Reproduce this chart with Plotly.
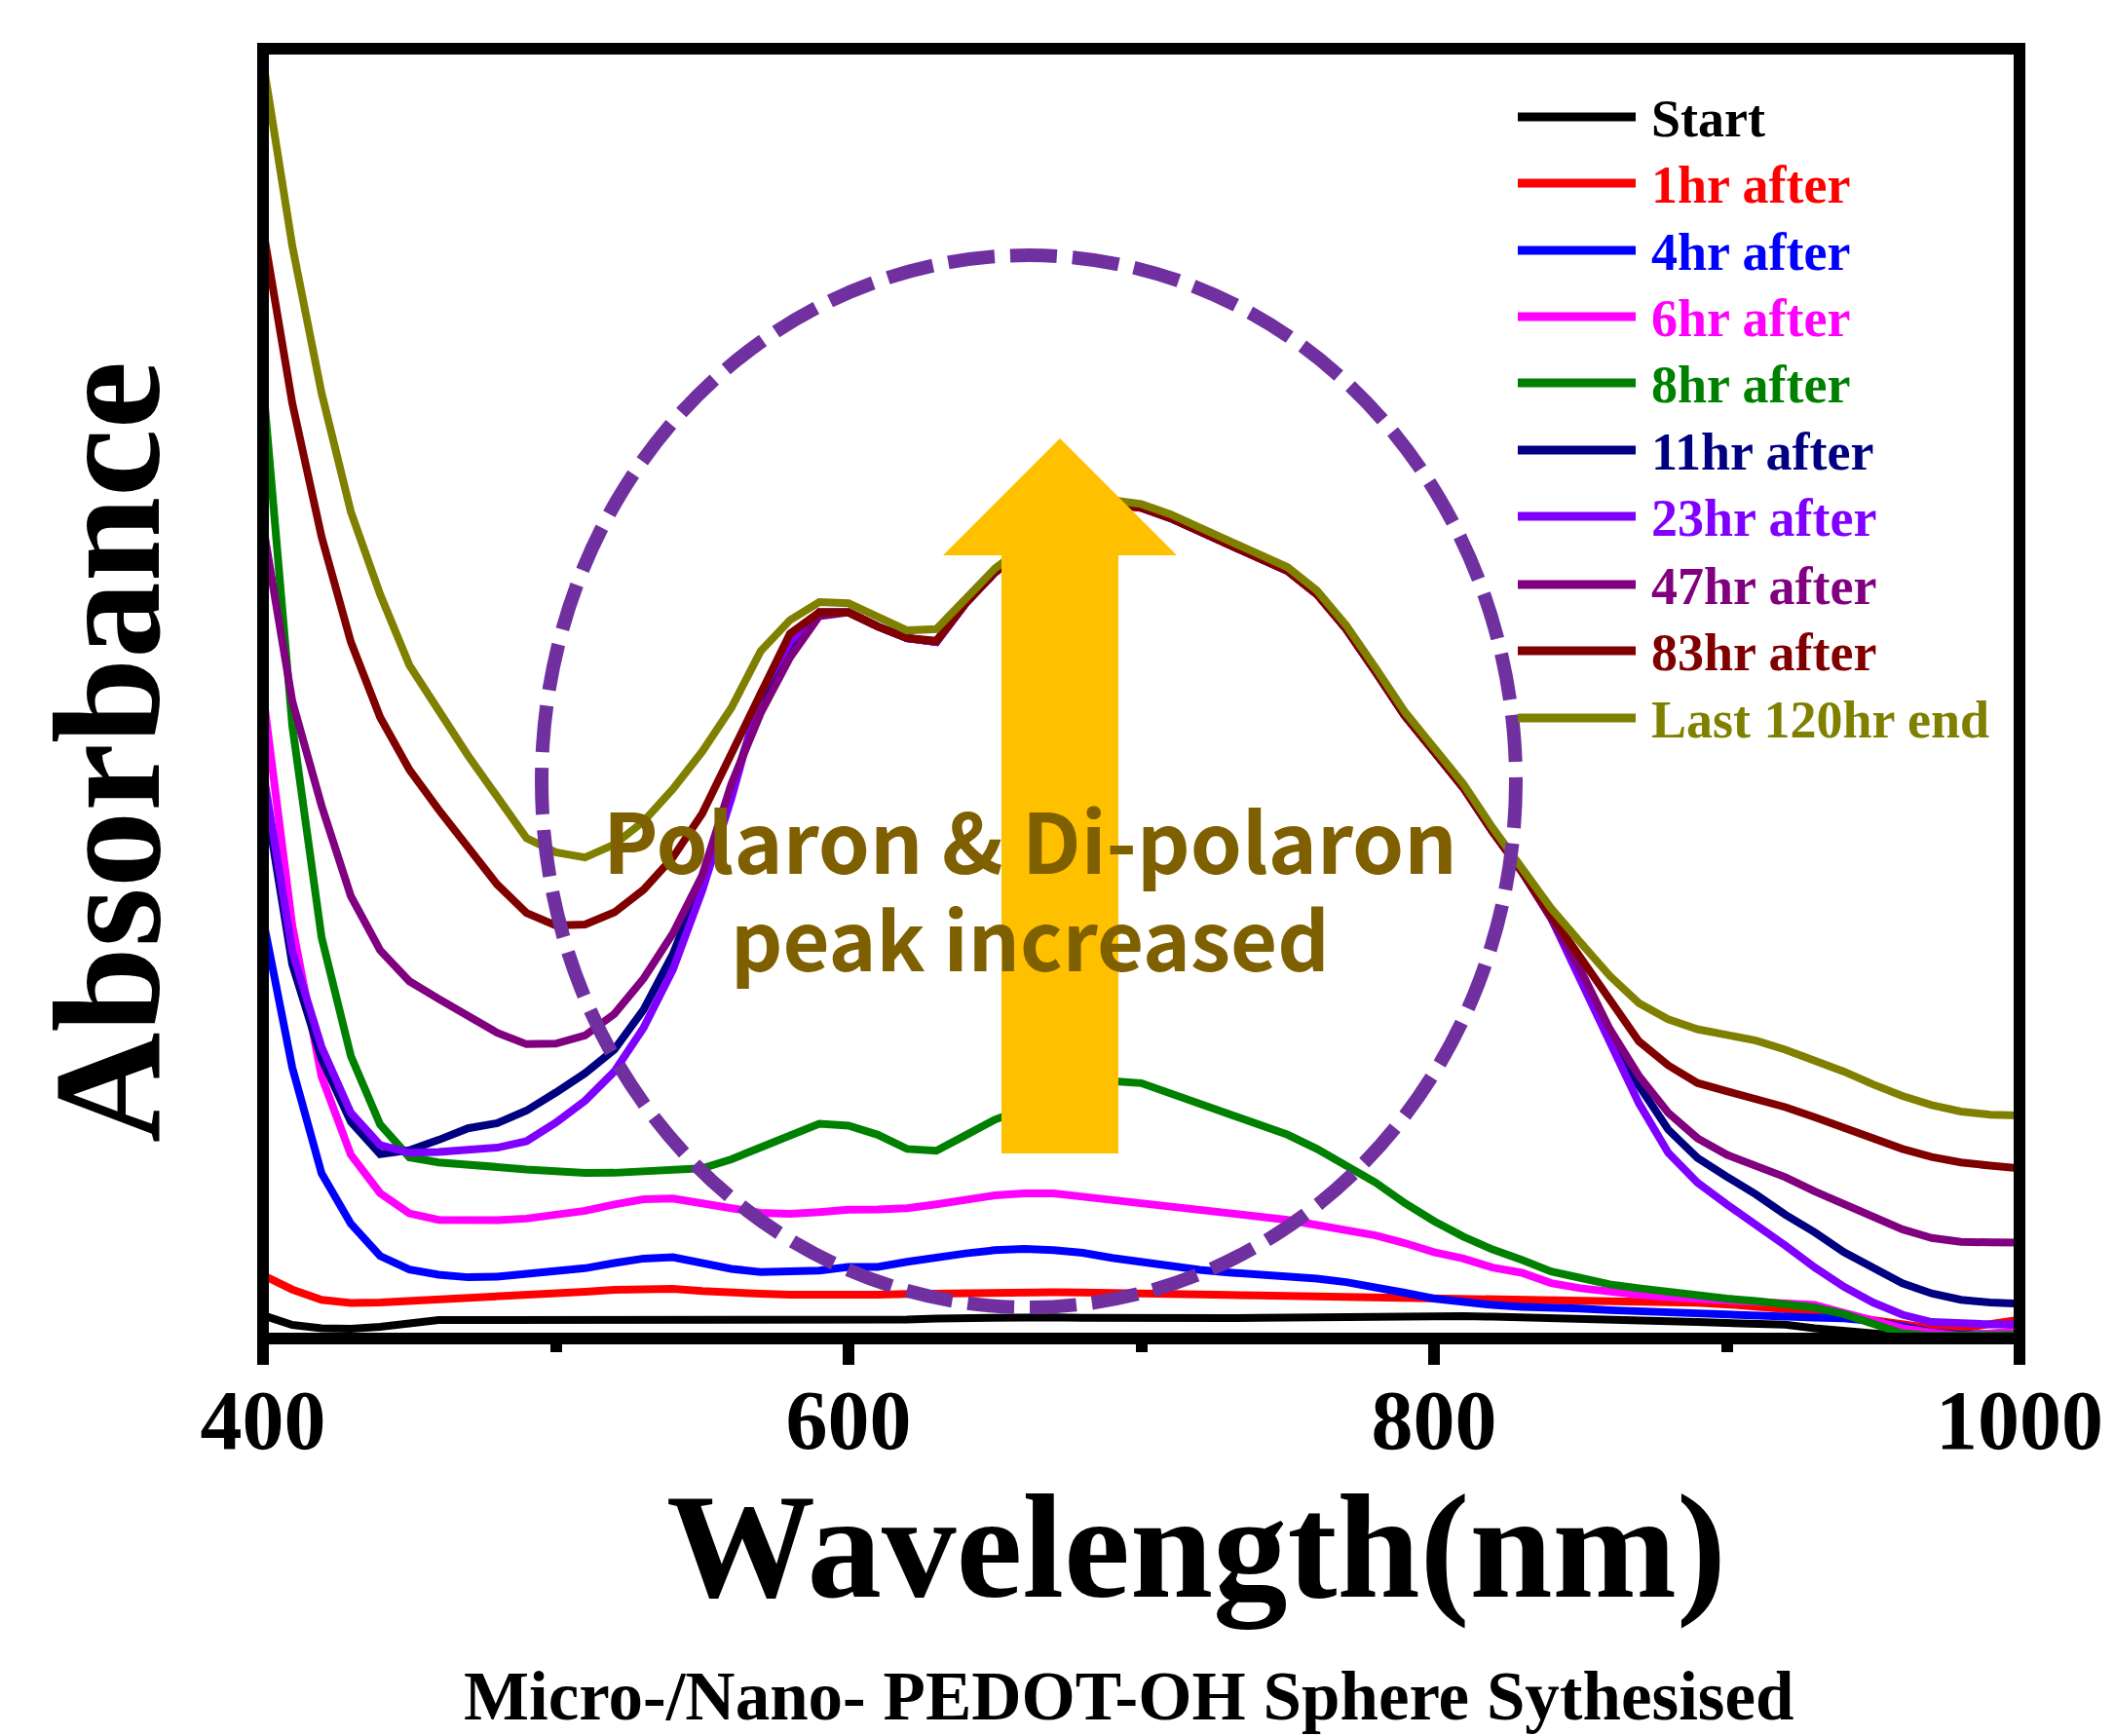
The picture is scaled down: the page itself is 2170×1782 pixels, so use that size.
import plotly.graph_objects as go

# ---------------- data ----------------
wavelength = [400, 410, 420, 430, 440, 450, 460, 470, 480, 490,
              500, 510, 520, 530, 540, 550, 560, 570, 580, 590,
              600, 610, 620, 630, 640, 650, 660, 670, 680, 690,
              700, 710, 720, 730, 740, 750, 760, 770, 780, 790,
              800, 810, 820, 830, 840, 850, 860, 870, 880, 890,
              900, 910, 920, 930, 940, 950, 960, 970, 980, 990, 1000]

series_names = ["Start", "1hr after", "4hr after", "6hr after", "8hr after",
                "11hr after", "23hr after", "47hr after", "83hr after", "Last 120hr end"]
series_colors = ["#000000", "#FF0000", "#0000FF", "#FF00FF", "#008000",
                 "#000080", "#8000FF", "#800080", "#800000", "#808000"]

start = [0.018, 0.0105, 0.008, 0.0075, 0.009, 0.012, 0.0143, 0.0143, 0.0143, 0.0143,
         0.0145, 0.0147, 0.0148, 0.0149, 0.0147, 0.0143, 0.014, 0.0138, 0.0137, 0.0136,
         0.0137, 0.0142, 0.0148, 0.0155, 0.016, 0.0165, 0.0168, 0.0165, 0.016, 0.0157,
         0.0156, 0.0157, 0.0158, 0.0159, 0.016, 0.0162, 0.017, 0.0176, 0.018, 0.018,
         0.0177, 0.0173, 0.0169, 0.0165, 0.016, 0.0153, 0.0146, 0.014, 0.0135, 0.0128,
         0.012, 0.0113, 0.0107, 0.008, 0.0055, 0.003, 0.002, 0.001, 0.001, 0.001, 0.001]

hr1 = [0.049, 0.038, 0.030, 0.0275, 0.028, 0.029, 0.0303, 0.0315, 0.0325, 0.0337,
       0.035, 0.0362, 0.0378, 0.0386, 0.0385, 0.0368, 0.0352, 0.0347, 0.034, 0.0337,
       0.0335, 0.034, 0.0345, 0.035, 0.0355, 0.036, 0.036, 0.0358, 0.0356, 0.0355,
       0.0353, 0.0348, 0.0343, 0.0338, 0.0334, 0.033, 0.0325, 0.032, 0.0316, 0.0312,
       0.0307, 0.0303, 0.030, 0.0295, 0.0295, 0.0295, 0.0295, 0.0293, 0.029, 0.0278,
       0.0265, 0.025, 0.0235, 0.021, 0.0175, 0.0145, 0.011, 0.008, 0.008, 0.011, 0.0145]

hr4 = [0.325, 0.21, 0.128, 0.089, 0.064, 0.0535, 0.0495, 0.0475, 0.048, 0.0498,
       0.0515, 0.0545, 0.0585, 0.062, 0.063, 0.0585, 0.054, 0.0516, 0.0514, 0.0527,
       0.0555, 0.0555, 0.0595, 0.0635, 0.066, 0.0685, 0.0695, 0.0685, 0.0665, 0.0625,
       0.059, 0.0553, 0.0532, 0.0512, 0.050, 0.049, 0.0465, 0.0437, 0.040, 0.0355,
       0.031, 0.028, 0.026, 0.0245, 0.0242, 0.0232, 0.022, 0.021, 0.0204, 0.0194,
       0.0185, 0.0175, 0.017, 0.0163, 0.0157, 0.0135, 0.0095, 0.005, 0.003, 0.0035, 0.0045]

hr6 = [0.50, 0.32, 0.203, 0.1425, 0.1127, 0.097, 0.092, 0.0918, 0.0918, 0.093,
       0.0955, 0.099, 0.104, 0.108, 0.1085, 0.1055, 0.101, 0.0975, 0.0966, 0.098,
       0.0998, 0.100, 0.101, 0.104, 0.108, 0.111, 0.1125, 0.1125, 0.110, 0.1075,
       0.104, 0.101, 0.099, 0.096, 0.094, 0.092, 0.088, 0.084, 0.080, 0.074,
       0.067, 0.062, 0.055, 0.051, 0.043, 0.039, 0.036, 0.034, 0.032, 0.031,
       0.030, 0.0295, 0.0285, 0.026, 0.020, 0.014, 0.008, 0.0045, 0.002, 0.004, 0.006]

hr8 = [0.74, 0.475, 0.311, 0.219, 0.166, 0.1405, 0.1365, 0.1355, 0.133, 0.131,
       0.129, 0.1284, 0.1285, 0.1295, 0.130, 0.132, 0.139, 0.148, 0.157, 0.1665,
       0.165, 0.158, 0.147, 0.1456, 0.1576, 0.1697, 0.178, 0.185, 0.1925, 0.1996,
       0.198, 0.190, 0.1826, 0.174, 0.165, 0.158, 0.147, 0.134, 0.121, 0.105,
       0.091, 0.079, 0.069, 0.061, 0.052, 0.047, 0.042, 0.039, 0.036, 0.033,
       0.031, 0.029, 0.027, 0.024, 0.019, 0.012, 0.004, 0.002, 0.002, 0.002, 0.003]

hr11 = [0.43, 0.29, 0.217, 0.168, 0.143, 0.146, 0.154, 0.163, 0.167, 0.1767,
        0.1907, 0.2057, 0.224, 0.255, 0.298, 0.355, 0.425, 0.495, 0.538, 0.563,
        0.563, 0.552, 0.543, 0.540, 0.570, 0.594, 0.611, 0.625, 0.639, 0.647,
        0.644, 0.636, 0.626, 0.616, 0.606, 0.595, 0.577, 0.550, 0.517, 0.483,
        0.455, 0.427, 0.393, 0.362, 0.326, 0.282, 0.237, 0.196, 0.162, 0.140,
        0.1255, 0.1117, 0.096, 0.0824, 0.067, 0.0549, 0.0428, 0.035, 0.030, 0.028, 0.027]

hr23 = [0.44, 0.30, 0.226, 0.175, 0.150, 0.144, 0.1447, 0.1467, 0.148, 0.153,
        0.1674, 0.1844, 0.207, 0.241, 0.286, 0.347, 0.419, 0.50, 0.54, 0.563,
        0.563, 0.552, 0.543, 0.540, 0.570, 0.594, 0.611, 0.625, 0.639, 0.647,
        0.644, 0.636, 0.626, 0.616, 0.606, 0.595, 0.577, 0.550, 0.517, 0.483,
        0.455, 0.427, 0.393, 0.362, 0.326, 0.277, 0.228, 0.1823, 0.144, 0.1208,
        0.104, 0.0888, 0.0721, 0.0552, 0.0402, 0.0279, 0.0185, 0.0128, 0.0115, 0.011, 0.011]

hr47 = [0.63, 0.494, 0.413, 0.343, 0.301, 0.277, 0.2633, 0.251, 0.237, 0.2282,
        0.2286, 0.235, 0.2516, 0.2791, 0.314, 0.359, 0.43, 0.485, 0.528, 0.560,
        0.563, 0.552, 0.543, 0.540, 0.570, 0.594, 0.611, 0.625, 0.639, 0.647,
        0.644, 0.636, 0.626, 0.616, 0.606, 0.595, 0.577, 0.550, 0.517, 0.483,
        0.455, 0.427, 0.393, 0.362, 0.326, 0.286, 0.240, 0.2036, 0.175, 0.1553,
        0.1425, 0.1341, 0.1251, 0.1142, 0.1043, 0.0942, 0.0847, 0.078, 0.075, 0.0745, 0.0744]

hr83 = [0.86, 0.725, 0.6215, 0.540, 0.4817, 0.441, 0.410, 0.3815, 0.352, 0.330,
        0.3203, 0.321, 0.3304, 0.348, 0.373, 0.407, 0.4536, 0.499, 0.5465, 0.563,
        0.563, 0.552, 0.543, 0.541, 0.570, 0.594, 0.611, 0.625, 0.639, 0.647,
        0.644, 0.636, 0.626, 0.616, 0.606, 0.595, 0.577, 0.550, 0.517, 0.483,
        0.455, 0.427, 0.393, 0.362, 0.328, 0.2953, 0.2608, 0.2304, 0.2118, 0.1981,
        0.1917, 0.1861, 0.1794, 0.1717, 0.1634, 0.155, 0.147, 0.1408, 0.1365, 0.134, 0.132]

hr120 = [0.99, 0.847, 0.733, 0.641, 0.577, 0.522, 0.487, 0.452, 0.420, 0.388,
         0.377, 0.373, 0.383, 0.401, 0.426, 0.455, 0.489, 0.533, 0.557, 0.571,
         0.570, 0.559, 0.549, 0.550, 0.573, 0.597, 0.614, 0.628, 0.642, 0.650,
         0.647, 0.639, 0.629, 0.619, 0.609, 0.598, 0.580, 0.553, 0.520, 0.486,
         0.458, 0.430, 0.396, 0.3644, 0.3335, 0.3071, 0.2813, 0.260, 0.2475, 0.2398,
         0.235, 0.231, 0.224, 0.216, 0.207, 0.197, 0.188, 0.181, 0.176, 0.1735, 0.173]

series_values = [start, hr1, hr4, hr6, hr8, hr11, hr23, hr47, hr83, hr120]

x_ticks = [400, 600, 800, 1000]
x_minor_ticks = [500, 700, 900]

annotation_line1 = "Polaron & Di-polaron"
annotation_line2 = "peak increased"
x_title = "Wavelength(nm)"
y_title = "Absorbance"
caption = "Micro-/Nano- PEDOT-OH Sphere Sythesised"

# ---------------- layout geometry (page pixels) ----------------
BODY = 8                      # default page margin before the plot div
W, H = 2170, 1782
PL, PR, PT, PB = 270, 2073, 50, 1374   # plot area edges in page pixels


def px(x):
    return (x - PL) / (PR - PL)


def py(y):
    return (PB - y) / (PB - PT)


SERIF = "Liberation Serif"

fig = go.Figure()
for name, color, vals in zip(series_names, series_colors, series_values):
    fig.add_trace(go.Scatter(x=wavelength, y=vals, mode="lines", name=name,
                             line=dict(color=color, width=8),
                             showlegend=False, hoverinfo="skip"))

shapes = []
# dashed ellipse
shapes.append(dict(type="circle", xref="paper", yref="paper",
                   x0=px(556), x1=px(1556), y0=py(1342), y1=py(262),
                   line=dict(color="#7030A0", width=14, dash="48px,16px"),
                   layer="above"))
# up arrow
pts = [(1088, 450), (1208, 570), (1148, 570), (1148, 1184),
       (1028, 1184), (1028, 570), (968, 570)]
path = "M " + " L ".join(f"{px(a):.5f},{py(b):.5f}" for a, b in pts) + " Z"
shapes.append(dict(type="path", xref="paper", yref="paper", path=path,
                   fillcolor="#FFC000", line=dict(width=0), layer="above"))

# legend (manual, long line samples)
annotations = []
leg_y = [120, 188, 257, 325, 393, 462, 530, 600, 668, 737]
for name, color, yc in zip(series_names, series_colors, leg_y):
    shapes.append(dict(type="line", xref="paper", yref="paper",
                       x0=px(1558), x1=px(1679), y0=py(yc), y1=py(yc),
                       line=dict(color=color, width=9), layer="above"))
    annotations.append(dict(text=name, xref="paper", yref="paper",
                            x=px(1693), y=py(yc + 2), xanchor="left", yanchor="middle",
                            showarrow=False,
                            font=dict(family=SERIF, size=54, color=color, weight="bold")))

# frame
shapes.append(dict(type="rect", xref="paper", yref="paper", x0=0, x1=1, y0=0, y1=1,
                   line=dict(color="black", width=12), layer="above"))

# texts
annotations.append(dict(text=annotation_line1, xref="paper", yref="paper",
                        x=px(1057), y=py(859), xanchor="center", yanchor="middle",
                        showarrow=False,
                        font=dict(family="Noto Sans CJK KR", size=85, color="#7F6000", weight="bold")))
annotations.append(dict(text=annotation_line2, xref="paper", yref="paper",
                        x=px(1057), y=py(961), xanchor="center", yanchor="middle",
                        showarrow=False,
                        font=dict(family="Noto Sans CJK KR", size=83, color="#7F6000", weight="bold")))
annotations.append(dict(text=x_title, xref="paper", yref="paper",
                        x=px(1228), y=py(1588), xanchor="center", yanchor="middle",
                        showarrow=False,
                        font=dict(family=SERIF, size=153, color="black", weight="bold")))
annotations.append(dict(text=y_title, xref="paper", yref="paper",
                        x=px(110), y=py(772), xanchor="center", yanchor="middle",
                        textangle=-90, showarrow=False,
                        font=dict(family=SERIF, size=157, color="black", weight="bold")))
annotations.append(dict(text=caption, xref="paper", yref="paper",
                        x=px(1159), y=py(1741), xanchor="center", yanchor="middle",
                        showarrow=False,
                        font=dict(family=SERIF, size=71, color="black", weight="bold")))

fig.update_layout(
    width=W, height=H,
    margin=dict(l=PL - BODY, r=(BODY + W) - PR, t=PT - BODY, b=(BODY + H) - PB, pad=0),
    paper_bgcolor="white", plot_bgcolor="white",
    shapes=shapes, annotations=annotations,
    showlegend=False,
    xaxis=dict(range=[400, 1000], tickmode="array", tickvals=x_ticks,
               ticks="outside", ticklen=26, tickwidth=12, tickcolor="black",
               ticklabelstandoff=-17,
               showline=False, showgrid=False, zeroline=False,
               tickfont=dict(family=SERIF, size=86, color="black", weight="bold"),
               minor=dict(tickmode="array", tickvals=x_minor_ticks, ticks="outside",
                          ticklen=13, tickwidth=12, tickcolor="black", showgrid=False)),
    yaxis=dict(range=[0, 1], showticklabels=False, ticks="", showline=False,
               showgrid=False, zeroline=False),
)

fig.write_html("out.html")
